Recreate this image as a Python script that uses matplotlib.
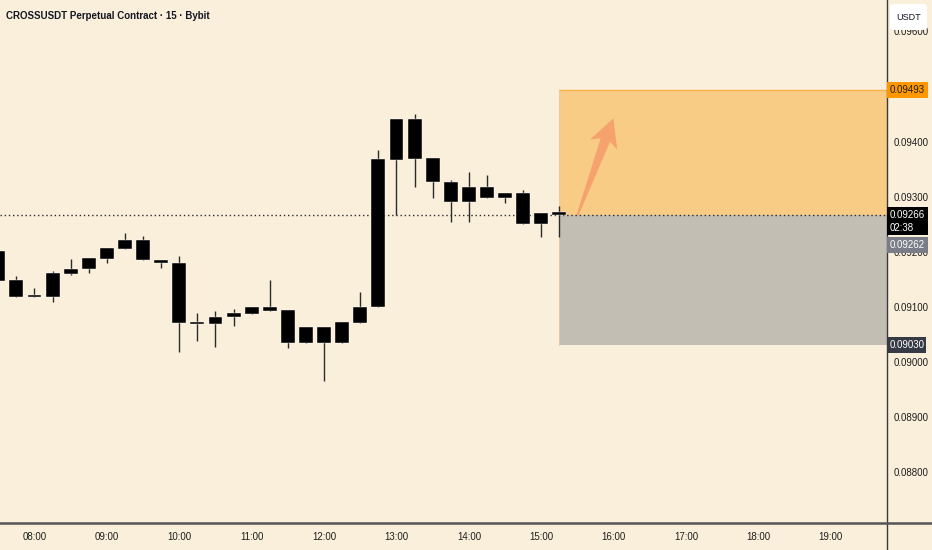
import numpy as np
import matplotlib.pyplot as plt
from matplotlib.patches import Rectangle, Polygon, FancyBboxPatch
from matplotlib.lines import Line2D

plt.rcParams['font.family'] = ['Liberation Sans', 'DejaVu Sans']

# 15-minute candles, time in hours
times = np.arange(7.5, 15.26, 0.25)
opens = [0.09201, 0.09148, 0.09119, 0.09118, 0.09159, 0.09168, 0.09187, 0.09205,
         0.09222, 0.09185, 0.09180, 0.09071, 0.09069, 0.09082, 0.09087, 0.09100,
         0.09094, 0.09034, 0.09064, 0.09034, 0.09071, 0.09100, 0.09366, 0.09440,
         0.09370, 0.09327, 0.09291, 0.09318, 0.09298, 0.09307, 0.09250, 0.09272]
highs = [0.09205, 0.09156, 0.09134, 0.09164, 0.09187, 0.09189, 0.09206, 0.09233,
         0.09228, 0.09185, 0.09192, 0.09088, 0.09092, 0.09096, 0.09100, 0.09149,
         0.09094, 0.09064, 0.09064, 0.09072, 0.09127, 0.09385, 0.09440, 0.09450,
         0.09370, 0.09330, 0.09345, 0.09339, 0.09307, 0.09312, 0.09271, 0.09283]
lows = [0.09145, 0.09118, 0.09118, 0.09109, 0.09158, 0.09161, 0.09180, 0.09205,
        0.09184, 0.09170, 0.09017, 0.09037, 0.09027, 0.09065, 0.09087, 0.09093,
        0.09026, 0.09034, 0.08966, 0.09034, 0.09071, 0.09100, 0.09267, 0.09318,
        0.09297, 0.09253, 0.09254, 0.09298, 0.09289, 0.09250, 0.09227, 0.09227]
closes = [0.09147, 0.09118, 0.09119, 0.09161, 0.09169, 0.09189, 0.09206, 0.09222,
          0.09184, 0.09179, 0.09071, 0.09071, 0.09082, 0.09088, 0.09100, 0.09093,
          0.09034, 0.09064, 0.09034, 0.09072, 0.09100, 0.09368, 0.09440, 0.09368,
          0.09326, 0.09291, 0.09318, 0.09298, 0.09307, 0.09250, 0.09271, 0.09266]

entry = 0.09266
target = 0.09493
stop = 0.09030
mark_price = 0.09262
countdown = "02:38"
arrow_start = (15.5, 0.09266)
arrow_end = (15.995, 0.09442)

# 0.09500 sits under the target label, so it is left out
price_ticks = [0.088, 0.089, 0.090, 0.091, 0.092, 0.093, 0.094, 0.096]
hour_ticks = list(range(8, 20))
hour_labels = ["%02d:00" % h for h in hour_ticks]

bg = '#FAEFDB'
W, H = 932, 550
fig = plt.figure(figsize=(W / 100, H / 100), dpi=100, facecolor=bg)
ax = fig.add_axes([0, 27.5 / H, 887 / W, 522.5 / H])
ax.set_facecolor(bg)
ax.set_xlim(7.5235, 19.775)
ax.set_ylim(0.087083, 0.096569)

# position tool boxes
ax.add_patch(Rectangle((times[-1], entry), 10, target - entry,
                       facecolor='#F9CC86', edgecolor='none', zorder=1))
ax.add_patch(Rectangle((times[-1], stop), 10, entry - stop,
                       facecolor='#C3BEB3', edgecolor='none', zorder=1))
ax.plot([times[-1], 21], [target, target], color='#F8B04A', lw=1, zorder=1.5)
ax.plot([times[-1], times[-1]], [stop, target], color='#E8C9A0', lw=0.6, zorder=1.5)

# last price dotted line
ax.axhline(entry, color='#2A2A2A', lw=1, ls=(0, (1, 2)), zorder=1.6)

# candles
bw = 0.193
for t, o, h, l, c in zip(times, opens, highs, lows, closes):
    ax.plot([t, t], [l, h], color='#2B2B2B', lw=1, zorder=2, solid_capstyle='butt')
    lo, hi = min(o, c), max(o, c)
    hgt = max(hi - lo, 0.00004)
    ax.add_patch(Rectangle((t - bw / 2, (lo + hi) / 2 - hgt / 2), bw, hgt,
                           facecolor='black', edgecolor='#FFFFFF', lw=0.3, zorder=3))

# arrow polygon in pixel space, then back to data
fig.canvas.draw()
p0 = ax.transData.transform(arrow_start)
p1 = ax.transData.transform(arrow_end)
d = p1 - p0
u = d / np.hypot(*d)
n = np.array([-u[1], u[0]])
hl, hw, sw, tw = 28, 14.5, 5, 1.0
base = p1 - hl * u
notch = p1 - (hl - 5) * u
pts = [p0 + tw * n, notch + sw * n, base + hw * n, p1,
       base - hw * n, notch - sw * n, p0 - tw * n]
pts = ax.transData.inverted().transform(np.array(pts))
ax.add_patch(Polygon(pts, closed=True, facecolor='#F6A26E', edgecolor='none', zorder=4))

# axes styling
for s in ax.spines.values():
    s.set_visible(False)
ax.yaxis.tick_right()
ax.set_yticks(price_ticks)
ax.set_yticklabels(["%.5f" % p for p in price_ticks])
ax.tick_params(axis='y', length=0, pad=5, labelsize=7, labelcolor='#1E1E1E')
ax.set_xticks(hour_ticks)
ax.set_xticklabels(hour_labels)
ax.tick_params(axis='x', length=0, pad=7, labelsize=7, labelcolor='#1E1E1E')

# frame lines
fig.add_artist(Line2D([887 / W, 887 / W], [0, 1], color='#3A3A3A', lw=1))
fig.add_artist(Line2D([0, 1], [27.5 / H, 27.5 / H], color='#555555', lw=1.8))

# title
fig.text(6 / W, 1 - 16 / H, "CROSSUSDT Perpetual Contract · 15 · Bybit",
         fontsize=7, fontweight='bold', color='#131722', va='center', ha='left')


def fy(price):
    return ax.transData.transform((0, price))[1] / H


def price_label(yc, hgt, text, fc, tc, w=41):
    fig.add_artist(Rectangle((887 / W, yc - hgt / 2 / H), w / W, hgt / H,
                             transform=fig.transFigure, facecolor=fc,
                             edgecolor='none', zorder=5))
    fig.text(890 / W, yc, text, fontsize=7, color=tc, va='center',
             ha='left', zorder=6)


price_label(fy(target), 16, "%.5f" % target, '#FF9800', '#1E1E1E')
# last price box (two lines)
yc = fy(entry)
fig.add_artist(Rectangle((887 / W, yc - 20 / H), 41 / W, 28 / H,
                         transform=fig.transFigure, facecolor='black',
                         edgecolor='none', zorder=5))
fig.text(890 / W, yc, "%.5f" % entry, fontsize=7, color='white', va='center', zorder=6)
fig.text(890 / W, yc - 13 / H, countdown, fontsize=7, color='white', va='center', zorder=6)
price_label(yc - 29.5 / H, 16, "%.5f" % mark_price, '#7A7D88', 'white')
price_label(fy(stop), 16, "%.5f" % stop, '#363A45', 'white', w=39)

# currency button
fig.add_artist(FancyBboxPatch((890 / W, 1 - 30 / H), 37 / W, 26 / H,
                              boxstyle='round,pad=0,rounding_size=0.005',
                              transform=fig.transFigure, facecolor='white',
                              edgecolor='none', zorder=5))
fig.text(908.5 / W, 1 - 17 / H, "USDT", fontsize=6.5, color='#131722',
         ha='center', va='center', zorder=6)

fig.savefig('out.png', dpi=100, facecolor=bg)
